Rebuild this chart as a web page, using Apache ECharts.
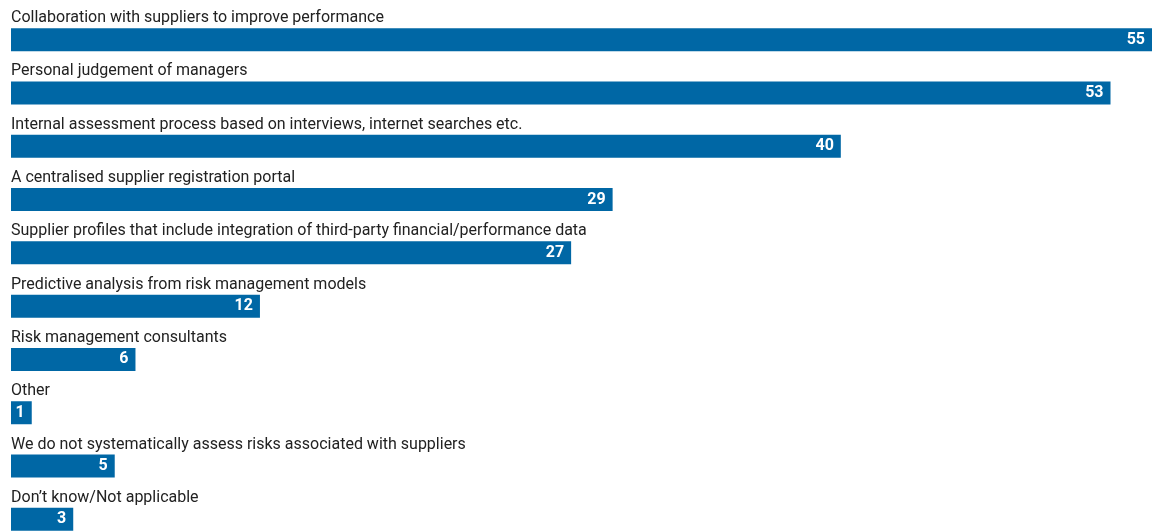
<!DOCTYPE html>
<html>
<head>
<meta charset="utf-8">
<script src="https://cdn.jsdelivr.net/npm/echarts@6/dist/echarts.min.js"></script>
<style>
html, body { margin: 0; padding: 0; background: #fff; overflow: hidden; }
/* a bit taller than the window: the last bar is cut off at the bottom edge */
#chart { width: 1164px; height: 546px; }
</style>
</head>
<body>
<div id="chart"></div>
<script>
// answers, top to bottom
const categories = [
  'Collaboration with suppliers to improve performance',
  'Personal judgement of managers',
  'Internal assessment process based on interviews, internet searches etc.',
  'A centralised supplier registration portal',
  'Supplier profiles that include integration of third-party financial/performance data',
  'Predictive analysis from risk management models',
  'Risk management consultants',
  'Other',
  'We do not systematically assess risks associated with suppliers',
  'Don\u2019t know/Not applicable'
];
const values = [55, 53, 40, 29, 27, 12, 6, 1, 5, 3];

const BLUE = '#0067a5';
const FONT = 'Roboto';

const chart = echarts.init(document.getElementById('chart'));
chart.setOption({
  animation: false,
  grid: { left: 11, right: 12, top: 13, bottom: 0, containLabel: false },
  xAxis: {
    type: 'value', min: 0, max: 55,
    show: false
  },
  yAxis: {
    type: 'category', data: categories, inverse: true,
    show: false
  },
  series: [
    {
      type: 'bar',
      data: values,
      barWidth: 23,
      itemStyle: { color: BLUE },
      label: {
        show: true,
        position: 'insideRight',
        distance: 7,
        color: '#fff',
        fontFamily: FONT,
        fontWeight: 'bold',
        fontSize: 16
      }
    },
    {
      // transparent copy, only carries the answer text above each bar
      type: 'bar',
      data: values,
      barWidth: 23,
      barGap: '-100%',
      itemStyle: { color: 'rgba(0,0,0,0)' },
      silent: true,
      label: {
        show: true,
        position: [0, -2],
        align: 'left',
        verticalAlign: 'bottom',
        formatter: p => p.name,
        color: '#222',
        fontFamily: FONT,
        fontSize: 16
      }
    }
  ]
});
</script>
</body>
</html>
